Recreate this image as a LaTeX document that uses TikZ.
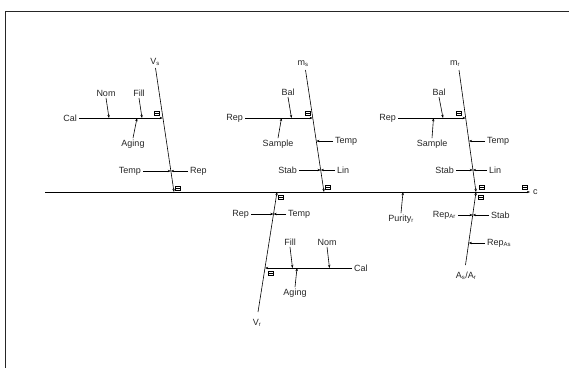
\documentclass[tikz,border=0pt]{standalone}
\usepackage{fontspec}
\setmainfont{Liberation Sans}
\usetikzlibrary{arrows.meta}
\begin{document}
\begin{tikzpicture}[x=1pt,y=-1pt,
  lbl/.style={inner xsep=2pt,inner ysep=1.5pt,font=\fontsize{9}{10}\selectfont,text=black!85},
  bone/.style={line width=0.6pt,draw=black},
  arr/.style={line width=0.6pt,draw=black,-{Stealth[length=3.2pt,width=2.4pt]}},
  sq/.style={draw=black,line width=0.5pt,minimum width=4.6pt,minimum height=4pt,inner sep=0pt,
    path picture={\draw[line width=0.4pt] (path picture bounding box.west) -- (path picture bounding box.east);}}]
\useasboundingbox (0,0) rectangle (569,367);
% frame
\draw[line width=0.9pt,black!85] (5.5,368) -- (5.5,11.5) -- (570,11.5);
% spine
\coordinate (s0) at (45,192);
\coordinate (s1) at (530,192);
\draw[arr] (s0) -- (s1);
\node[lbl,anchor=west] (c) at (531,192) {c};
\node[sq] (bxc) at (525,187) {};

%% Bone 1 : V_s
\coordinate (b1t) at (155.5,68);
\coordinate (b1b) at (174,192);
\coordinate (b1a) at (162.8,118);
\coordinate (b1c) at (170.9,171);
\node[lbl] (Vs) at (155,62) {V\textsubscript{s}};
\draw[arr] (b1t) -- (b1b);
\node[sq] (bx1a) at (157,113) {};
\node[sq] (bx1b) at (178,188) {};
\node[lbl,anchor=east] (Cal1) at (79,118) {Cal};
\draw[arr] (Cal1) -- (b1a);
\node[lbl] (Nom1) at (106,93) {Nom};
\coordinate (n1) at (109,118);
\draw[arr] (Nom1.south) -- (n1);
\node[lbl] (Fill1) at (139,93) {Fill};
\coordinate (f1) at (142,118);
\draw[arr] (Fill1.south) -- (f1);
\node[lbl] (Aging1) at (133,144) {Aging};
\coordinate (a1) at (137,118);
\draw[arr] (Aging1.north) -- (a1);
\node[lbl,anchor=east] (Temp1) at (143,171) {Temp};
\draw[arr] (Temp1) -- (b1c);
\node[lbl,anchor=west] (Rep1) at (188,171) {Rep};
\draw[arr] (Rep1) -- (b1c);

%% Bone 2 : m_s
\coordinate (b2t) at (305.5,70);
\coordinate (b2b) at (324,192);
\coordinate (b2a) at (312.8,118);
\coordinate (b2c) at (316.3,141);
\coordinate (b2d) at (320.7,170);
\node[lbl] (ms) at (303,64) {m\textsubscript{s}};
\draw[arr] (b2t) -- (b2b);
\node[sq] (bx2a) at (307.5,113) {};
\node[sq] (bx2b) at (328,187) {};
\node[lbl,anchor=east] (Rep2) at (245,118) {Rep};
\draw[arr] (Rep2) -- (b2a);
\node[lbl] (Bal2) at (288,92) {Bal};
\coordinate (bl2) at (291.5,118);
\draw[arr] (Bal2.south) -- (bl2);
\node[lbl] (Sample2) at (278,144) {Sample};
\coordinate (sm2) at (281.5,118);
\draw[arr] (Sample2.north) -- (sm2);
\node[lbl,anchor=west] (Temp2) at (333,141) {Temp};
\draw[arr] (Temp2) -- (b2c);
\node[lbl,anchor=east] (Stab2) at (299,170) {Stab};
\draw[arr] (Stab2) -- (b2d);
\node[lbl,anchor=west] (Lin2) at (335,170) {Lin};
\draw[arr] (Lin2) -- (b2d);

%% Bone 3 : m_r
\coordinate (b3t) at (459,70);
\coordinate (b3b) at (476,192);
\coordinate (b3a) at (465.7,118);
\coordinate (b3c) at (468.9,141);
\coordinate (b3d) at (472.9,170);
\node[lbl] (mr) at (455,64) {m\textsubscript{r}};
\draw[arr] (b3t) -- (b3b);
\node[sq] (bx3a) at (459,113) {};
\node[sq] (bx3b) at (482,187) {};
\node[lbl,anchor=east] (Rep3) at (398,118) {Rep};
\draw[arr] (Rep3) -- (b3a);
\node[lbl] (Bal3) at (439,92) {Bal};
\coordinate (bl3) at (443,118);
\draw[arr] (Bal3.south) -- (bl3);
\node[lbl] (Sample3) at (432,144) {Sample};
\coordinate (sm3) at (433.5,118);
\draw[arr] (Sample3.north) -- (sm3);
\node[lbl,anchor=west] (Temp3) at (485,141) {Temp};
\draw[arr] (Temp3) -- (b3c);
\node[lbl,anchor=east] (Stab3) at (456,170) {Stab};
\draw[arr] (Stab3) -- (b3d);
\node[lbl,anchor=west] (Lin3) at (487,170) {Lin};
\draw[arr] (Lin3) -- (b3d);

%% Bone 4 : A_s/A_r
\coordinate (b4t) at (476,192);
\coordinate (b4b) at (465.5,265);
\coordinate (b4c) at (472.7,215);
\coordinate (b4d) at (468.7,243);
\node[lbl] (AsAr) at (466,276) {A\textsubscript{s}/A\textsubscript{r}};
\draw[arr] (b4b) -- (b4t);
\node[sq] (bx4) at (481,197) {};
\node[lbl,anchor=east] (RepAr) at (458,215) {Rep\textsubscript{Ar}};
\draw[arr] (RepAr) -- (b4c);
\node[lbl,anchor=west] (Stab4) at (489,215) {Stab};
\draw[arr] (Stab4) -- (b4c);
\node[lbl,anchor=west] (RepAs) at (485,243) {Rep\textsubscript{As}};
\draw[arr] (RepAs) -- (b4d);

%% Purity
\node[lbl] (Pur) at (401,219) {Purity\textsubscript{r}};
\coordinate (pu) at (403,192);
\draw[arr] (Pur.north) -- (pu);

%% Bone 5 : V_r
\coordinate (b5t) at (277,192);
\coordinate (b5b) at (258,312);
\coordinate (b5c) at (273.5,214);
\coordinate (b5a) at (265,268);
\node[lbl] (Vr) at (257,323) {V\textsubscript{r}};
\draw[arr] (b5b) -- (b5t);
\node[sq] (bx5a) at (281,197) {};
\node[sq] (bx5b) at (270.5,273) {};
\node[lbl,anchor=east] (Rep5) at (251,214) {Rep};
\draw[arr] (Rep5) -- (b5c);
\node[lbl,anchor=west] (Temp5) at (286,214) {Temp};
\draw[arr] (Temp5) -- (b5c);
\node[lbl,anchor=west] (Cal5) at (352,268) {Cal};
\draw[arr] (Cal5) -- (b5a);
\node[lbl] (Fill5) at (290,242) {Fill};
\coordinate (f5) at (292.5,268);
\draw[arr] (Fill5.south) -- (f5);
\node[lbl] (Nom5) at (327,242) {Nom};
\coordinate (n5) at (329.5,268);
\draw[arr] (Nom5.south) -- (n5);
\node[lbl] (Aging5) at (295,293) {Aging};
\coordinate (a5) at (297,268);
\draw[arr] (Aging5.north) -- (a5);
\end{tikzpicture}
\end{document}
